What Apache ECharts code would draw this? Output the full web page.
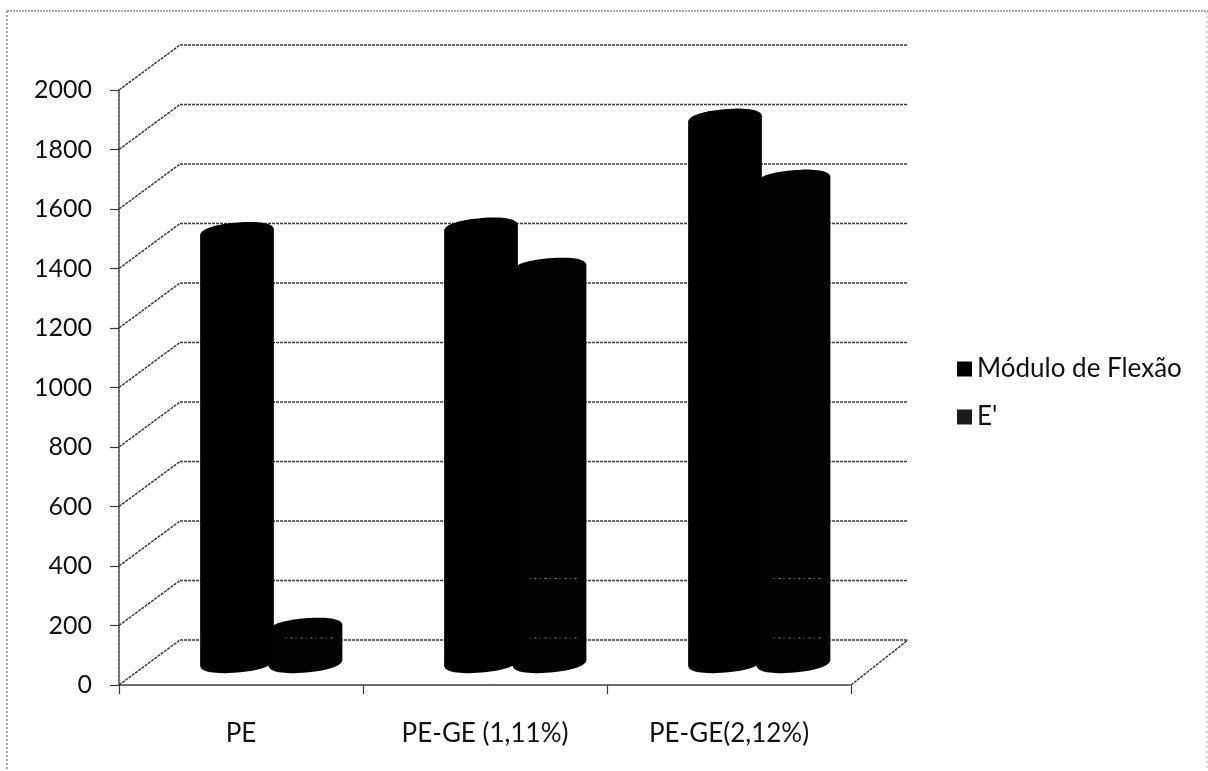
<!DOCTYPE html>
<html>
<head>
<meta charset="utf-8">
<title>Módulo de Flexão</title>
<script src="https://cdn.jsdelivr.net/npm/echarts@6/dist/echarts.min.js"></script>
<style>
  html, body { margin: 0; padding: 0; background: #fff; }
  #chart { width: 1208px; height: 771px; }
</style>
</head>
<body>
<div id="chart"></div>
<script>
var categories = ["PE", "PE-GE (1,11%)", "PE-GE(2,12%)"];
var moduloValues = [1445, 1460, 1826];
var eValues = [115, 1325, 1621];
var yTicks = [0, 200, 400, 600, 800, 1000, 1200, 1400, 1600, 1800, 2000];

var FONT = "Lato, 'Open Sans', sans-serif";
var LINE = "#3c3c3c";
// depth of the fake 3d box
var DEPTH_X = 61;
var DEPTH_Y = -45;
// cylinder shape
var RX = 37;
var RY = 10;
var TILT = 5 * Math.PI / 180;
var ROUNDNESS = 2.25;

function wallItem(params, api) {
  var cs = params.coordSys;
  var y = api.coord([0, api.value(1)])[1];
  var left = cs.x;
  var right = cs.x + cs.width;
  var style = { stroke: LINE, lineWidth: 1.5, fill: null, lineDash: [3, 1] };
  var children = [
    // side wall
    { type: "line", shape: { x1: left, y1: y, x2: left + DEPTH_X, y2: y + DEPTH_Y }, style: style },
    // back wall
    { type: "line", shape: { x1: left + DEPTH_X, y1: y + DEPTH_Y, x2: right + DEPTH_X - 4, y2: y + DEPTH_Y }, style: style }
  ];
  if (api.value(1) === 0) {
    children.push({ type: "line", shape: { x1: right, y1: y, x2: right + DEPTH_X - 4, y2: y + DEPTH_Y }, style: style });
  }
  return { type: "group", children: children };
}

// half outline of the cap, from angle a0 to a1, around (cx, cy)
function capPoints(cx, cy, a0, a1) {
  var pts = [];
  var steps = 32;
  for (var i = 0; i <= steps; i++) {
    var a = a0 + (a1 - a0) * i / steps;
    var c = Math.cos(a);
    var s = Math.sin(a);
    var px = RX * (c < 0 ? -1 : 1) * Math.pow(Math.abs(c), 2 / ROUNDNESS);
    var py = RY * (s < 0 ? -1 : 1) * Math.pow(Math.abs(s), 2 / ROUNDNESS);
    pts.push([
      cx + px * Math.cos(TILT) + py * Math.sin(TILT),
      cy - px * Math.sin(TILT) + py * Math.cos(TILT)
    ]);
  }
  return pts;
}

function cylinderItem(offset, color, speckle) {
  return function (params, api) {
    var base = api.coord([api.value(0), 0]);
    var top = api.coord([api.value(0), api.value(1)]);
    var cx = base[0] + DEPTH_X / 2 + offset;
    var dy = DEPTH_Y / 2;
    var yBase = base[1] + dy;
    var yTop = top[1] + dy;
    var outline = capPoints(cx, yTop, Math.PI, 2 * Math.PI).concat(capPoints(cx, yBase, 0, Math.PI));
    var children = [
      { type: "polygon", shape: { points: outline }, style: { fill: color } }
    ];
    if (speckle) {
      // gridlines showing faintly through the second series
      [0, 200].forEach(function (tick) {
        if (tick > api.value(1)) return;
        var yLine = api.coord([0, tick])[1] + DEPTH_Y;
        children.push({
          type: "line",
          shape: { x1: cx - 20, y1: yLine - 2, x2: cx + 28, y2: yLine - 2 },
          style: { stroke: "#8a8a8a", lineWidth: 1, lineDash: [1, 4, 2, 3] }
        });
      });
    }
    return { type: "group", children: children };
  };
}

var chart = echarts.init(document.getElementById("chart"), null, { renderer: "canvas" });

chart.setOption({
  backgroundColor: "#fff",
  animation: false,
  textStyle: { fontFamily: FONT },
  grid: { left: 119, top: 90, width: 732, height: 595, containLabel: false },
  legend: {
    orient: "vertical",
    left: 952,
    top: 351,
    itemWidth: 15,
    itemHeight: 15,
    itemGap: 22,
    icon: "rect",
    selectedMode: false,
    data: ["Módulo de Flexão", "E'"],
    textStyle: { color: "#111", fontSize: 26, fontFamily: FONT }
  },
  xAxis: {
    type: "category",
    data: categories,
    axisLine: { lineStyle: { color: LINE, width: 1.5, type: [3, 1] } },
    axisTick: { show: true, length: 9, lineStyle: { color: LINE, width: 1.2 } },
    axisLabel: { color: "#111", fontSize: 26, margin: 36, fontFamily: FONT },
    splitLine: { show: false }
  },
  yAxis: {
    type: "value",
    min: 0,
    max: 2000,
    interval: 200,
    axisLine: { show: true, lineStyle: { color: LINE, width: 1.5, type: [3, 1] } },
    axisTick: { show: true, length: 9, lineStyle: { color: LINE, width: 1.2 } },
    axisLabel: {
      color: "#111",
      fontSize: 25,
      margin: 27,
      fontFamily: FONT,
      formatter: function (v) { return String(v); }
    },
    splitLine: { show: false }
  },
  series: [
    {
      type: "custom",
      silent: true,
      z: 1,
      renderItem: wallItem,
      data: yTicks.map(function (t) { return [0, t]; })
    },
    {
      name: "E'",
      type: "custom",
      z: 2,
      itemStyle: { color: "#1c1c1c" },
      renderItem: cylinderItem(34, "#020202", true),
      data: eValues.map(function (v, i) { return [i, v]; })
    },
    {
      name: "Módulo de Flexão",
      type: "custom",
      z: 3,
      itemStyle: { color: "#000" },
      renderItem: cylinderItem(-34.5, "#000", false),
      data: moduloValues.map(function (v, i) { return [i, v]; })
    }
  ],
  graphic: [
    // dotted frame of the scanned figure
    { type: "line", silent: true, shape: { x1: 7, y1: 11, x2: 1208, y2: 11 }, style: { stroke: "#555", lineWidth: 1, lineDash: [2, 1] } },
    { type: "line", silent: true, shape: { x1: 7, y1: 11, x2: 7, y2: 771 }, style: { stroke: "#555", lineWidth: 1, lineDash: [2, 2] } },
    { type: "line", silent: true, shape: { x1: 1207, y1: 11, x2: 1207, y2: 771 }, style: { stroke: "#aaa", lineWidth: 1, lineDash: [2, 3] } }
  ]
});
</script>
</body>
</html>
